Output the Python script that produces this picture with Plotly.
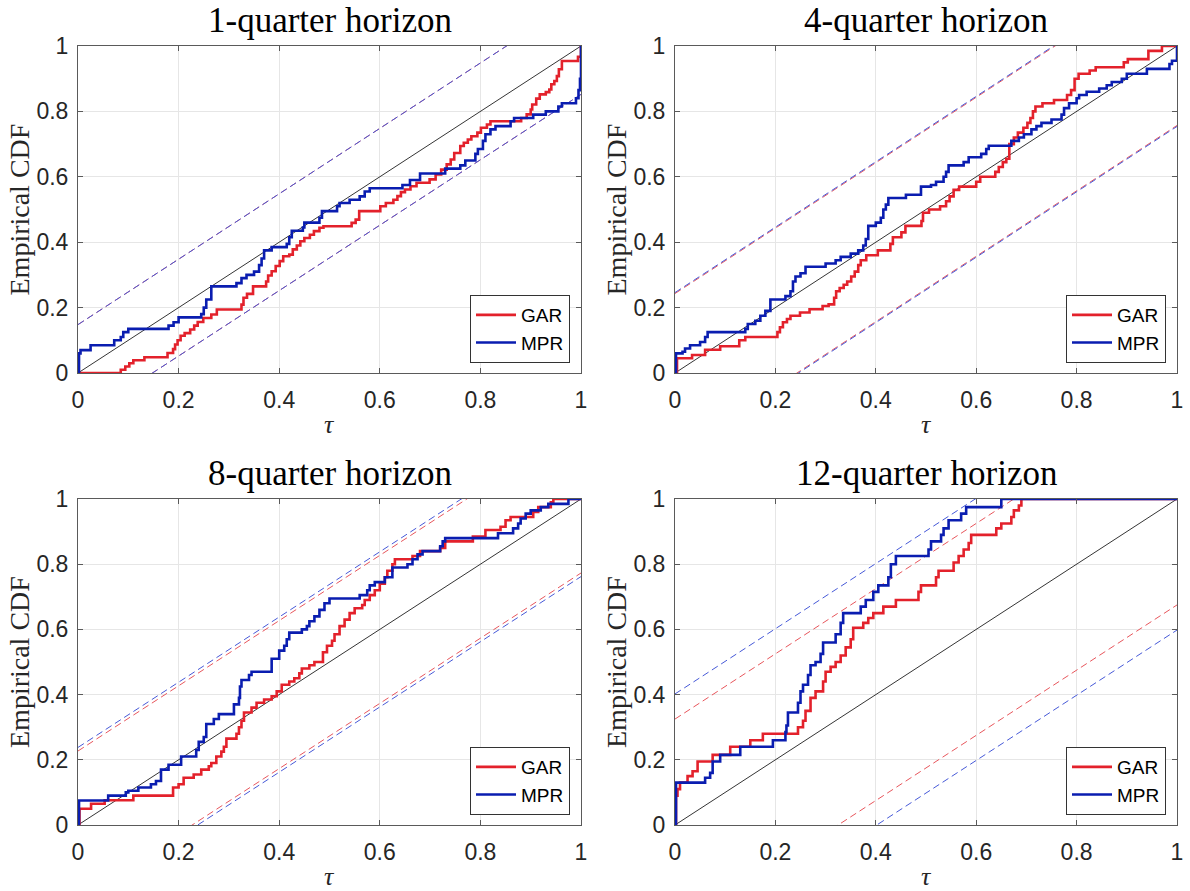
import plotly.graph_objects as go

# ---------------- data ----------------
panel_titles = ["1-quarter horizon", "4-quarter horizon", "8-quarter horizon", "12-quarter horizon"]
tick_vals = [0, 0.2, 0.4, 0.6, 0.8, 1]
tick_text = ["0", "0.2", "0.4", "0.6", "0.8", "1"]

# empirical CDF steps: (tau, cdf) pairs
gar_q1 = [(0, 0), (0.085, 0.01), (0.094, 0.02), (0.102, 0.03), (0.11, 0.039), (0.132, 0.048), (0.178, 0.061),
          (0.189, 0.073), (0.193, 0.087), (0.198, 0.1), (0.204, 0.114), (0.212, 0.122), (0.223, 0.133),
          (0.231, 0.145), (0.238, 0.156), (0.249, 0.168), (0.265, 0.179), (0.276, 0.194), (0.325, 0.209),
          (0.329, 0.23), (0.336, 0.242), (0.348, 0.265), (0.374, 0.28), (0.378, 0.298), (0.385, 0.311),
          (0.393, 0.327), (0.401, 0.342), (0.408, 0.357), (0.42, 0.362), (0.427, 0.378), (0.435, 0.39),
          (0.442, 0.403), (0.45, 0.413), (0.461, 0.423), (0.469, 0.434), (0.48, 0.444), (0.488, 0.449),
          (0.544, 0.459), (0.552, 0.469), (0.559, 0.495), (0.601, 0.51), (0.612, 0.52), (0.627, 0.53),
          (0.635, 0.541), (0.642, 0.553), (0.65, 0.561), (0.661, 0.571), (0.673, 0.582), (0.699, 0.592),
          (0.711, 0.607), (0.722, 0.622), (0.733, 0.638), (0.741, 0.653), (0.748, 0.673), (0.76, 0.694),
          (0.767, 0.704), (0.775, 0.714), (0.782, 0.724), (0.794, 0.735), (0.801, 0.75), (0.813, 0.76),
          (0.82, 0.77), (0.881, 0.78), (0.892, 0.791), (0.9, 0.806), (0.903, 0.821), (0.911, 0.839),
          (0.918, 0.852), (0.93, 0.859), (0.937, 0.867), (0.941, 0.883), (0.947, 0.893), (0.952, 0.908),
          (0.956, 0.929), (0.962, 0.954), (0.994, 0.967), (1.0, 1.0)]
mpr_q1 = [(0, 0), (0.002, 0.06), (0.005, 0.07), (0.025, 0.085), (0.072, 0.1), (0.085, 0.11), (0.09, 0.125),
          (0.1, 0.135), (0.18, 0.145), (0.19, 0.155), (0.2, 0.17), (0.245, 0.18), (0.25, 0.2), (0.255, 0.225),
          (0.265, 0.265), (0.315, 0.275), (0.325, 0.29), (0.335, 0.3), (0.35, 0.31), (0.36, 0.33),
          (0.365, 0.35), (0.37, 0.375), (0.385, 0.385), (0.415, 0.395), (0.42, 0.415), (0.425, 0.435),
          (0.447, 0.445), (0.45, 0.46), (0.48, 0.475), (0.485, 0.495), (0.515, 0.51), (0.52, 0.52),
          (0.54, 0.53), (0.56, 0.54), (0.57, 0.555), (0.58, 0.565), (0.645, 0.575), (0.66, 0.59),
          (0.68, 0.61), (0.73, 0.625), (0.76, 0.635), (0.77, 0.65), (0.79, 0.67), (0.795, 0.685),
          (0.805, 0.71), (0.81, 0.73), (0.82, 0.745), (0.83, 0.755), (0.86, 0.77), (0.867, 0.78),
          (0.905, 0.79), (0.93, 0.8), (0.955, 0.815), (0.962, 0.825), (0.99, 0.84), (0.995, 0.865),
          (0.998, 0.9), (1.0, 1.0)]

gar_q4 = [(0, 0), (0.004, 0.045), (0.034, 0.055), (0.06, 0.071), (0.09, 0.082), (0.128, 0.1), (0.14, 0.11),
          (0.204, 0.125), (0.209, 0.14), (0.215, 0.155), (0.223, 0.165), (0.23, 0.175), (0.249, 0.185),
          (0.268, 0.195), (0.294, 0.205), (0.306, 0.21), (0.317, 0.23), (0.321, 0.25), (0.328, 0.26),
          (0.336, 0.27), (0.343, 0.28), (0.351, 0.295), (0.358, 0.31), (0.365, 0.33), (0.37, 0.345),
          (0.381, 0.36), (0.404, 0.375), (0.429, 0.395), (0.434, 0.415), (0.451, 0.43), (0.459, 0.45),
          (0.491, 0.465), (0.494, 0.49), (0.506, 0.5), (0.528, 0.51), (0.54, 0.525), (0.547, 0.54),
          (0.555, 0.56), (0.566, 0.57), (0.6, 0.585), (0.608, 0.6), (0.638, 0.615), (0.645, 0.63),
          (0.653, 0.645), (0.66, 0.655), (0.666, 0.7), (0.675, 0.72), (0.683, 0.735), (0.694, 0.75),
          (0.702, 0.765), (0.708, 0.78), (0.713, 0.8), (0.718, 0.815), (0.732, 0.825), (0.755, 0.835),
          (0.781, 0.85), (0.789, 0.865), (0.796, 0.9), (0.804, 0.915), (0.826, 0.925), (0.838, 0.935),
          (0.894, 0.95), (0.902, 0.96), (0.943, 0.985), (0.97, 1.0), (1.0, 1.0)]
mpr_q4 = [(0, 0), (0.002, 0.06), (0.015, 0.065), (0.02, 0.075), (0.03, 0.085), (0.05, 0.095), (0.06, 0.11),
          (0.065, 0.125), (0.14, 0.135), (0.145, 0.15), (0.16, 0.16), (0.17, 0.175), (0.18, 0.19),
          (0.19, 0.225), (0.22, 0.235), (0.23, 0.25), (0.235, 0.28), (0.24, 0.295), (0.25, 0.305),
          (0.26, 0.325), (0.3, 0.335), (0.32, 0.345), (0.33, 0.355), (0.35, 0.365), (0.365, 0.375),
          (0.375, 0.39), (0.38, 0.41), (0.385, 0.45), (0.4, 0.46), (0.41, 0.475), (0.415, 0.5),
          (0.42, 0.515), (0.425, 0.535), (0.46, 0.545), (0.49, 0.57), (0.51, 0.575), (0.52, 0.585),
          (0.535, 0.6), (0.54, 0.615), (0.545, 0.635), (0.575, 0.645), (0.585, 0.66), (0.61, 0.67),
          (0.62, 0.685), (0.625, 0.695), (0.67, 0.71), (0.685, 0.72), (0.695, 0.73), (0.71, 0.745),
          (0.72, 0.755), (0.73, 0.765), (0.75, 0.775), (0.77, 0.79), (0.775, 0.81), (0.785, 0.825),
          (0.8, 0.84), (0.805, 0.85), (0.82, 0.86), (0.845, 0.87), (0.86, 0.88), (0.87, 0.89),
          (0.89, 0.9), (0.9, 0.915), (0.94, 0.93), (0.985, 0.945), (0.99, 0.955), (1.0, 1.0)]

gar_q8 = [(0, 0), (0.003, 0.05), (0.026, 0.065), (0.053, 0.076), (0.11, 0.09), (0.189, 0.115), (0.2, 0.125),
          (0.21, 0.145), (0.23, 0.155), (0.245, 0.17), (0.26, 0.18), (0.265, 0.19), (0.275, 0.21),
          (0.285, 0.225), (0.29, 0.24), (0.295, 0.265), (0.315, 0.28), (0.32, 0.3), (0.325, 0.32),
          (0.33, 0.345), (0.345, 0.36), (0.355, 0.375), (0.37, 0.385), (0.385, 0.395), (0.395, 0.41),
          (0.405, 0.43), (0.42, 0.44), (0.43, 0.45), (0.44, 0.465), (0.445, 0.48), (0.46, 0.49),
          (0.47, 0.5), (0.487, 0.53), (0.495, 0.55), (0.505, 0.565), (0.51, 0.585), (0.52, 0.61),
          (0.53, 0.63), (0.54, 0.65), (0.55, 0.665), (0.565, 0.675), (0.57, 0.69), (0.58, 0.705),
          (0.59, 0.72), (0.6, 0.74), (0.61, 0.76), (0.615, 0.78), (0.625, 0.8), (0.63, 0.815),
          (0.665, 0.825), (0.68, 0.84), (0.72, 0.85), (0.73, 0.87), (0.785, 0.885), (0.81, 0.905),
          (0.84, 0.915), (0.85, 0.935), (0.86, 0.945), (0.905, 0.96), (0.915, 0.975), (0.94, 0.99),
          (0.945, 1.0), (1.0, 1.0)]
mpr_q8 = [(0, 0), (0.002, 0.075), (0.06, 0.09), (0.095, 0.1), (0.1, 0.105), (0.12, 0.115), (0.145, 0.125),
          (0.155, 0.135), (0.165, 0.17), (0.18, 0.185), (0.205, 0.21), (0.235, 0.23), (0.24, 0.255),
          (0.25, 0.27), (0.255, 0.31), (0.27, 0.325), (0.28, 0.34), (0.31, 0.37), (0.32, 0.39),
          (0.322, 0.425), (0.325, 0.445), (0.34, 0.46), (0.345, 0.47), (0.385, 0.51), (0.4, 0.535),
          (0.41, 0.55), (0.415, 0.57), (0.42, 0.59), (0.445, 0.6), (0.455, 0.61), (0.46, 0.625),
          (0.47, 0.64), (0.48, 0.66), (0.49, 0.68), (0.5, 0.695), (0.56, 0.705), (0.575, 0.72),
          (0.58, 0.735), (0.59, 0.745), (0.61, 0.76), (0.625, 0.79), (0.655, 0.8), (0.665, 0.815),
          (0.675, 0.83), (0.685, 0.84), (0.72, 0.855), (0.725, 0.87), (0.73, 0.88), (0.835, 0.895),
          (0.865, 0.91), (0.875, 0.925), (0.88, 0.94), (0.89, 0.955), (0.9, 0.965), (0.92, 0.975),
          (0.935, 0.985), (0.975, 1.0), (1.0, 1.0)]

gar_q12 = [(0, 0), (0.002, 0.09), (0.005, 0.11), (0.01, 0.13), (0.025, 0.15), (0.035, 0.165), (0.045, 0.195),
           (0.075, 0.215), (0.11, 0.24), (0.15, 0.26), (0.175, 0.28), (0.245, 0.3), (0.255, 0.32),
           (0.26, 0.35), (0.27, 0.39), (0.28, 0.41), (0.295, 0.44), (0.3, 0.47), (0.31, 0.485),
           (0.32, 0.5), (0.33, 0.52), (0.34, 0.545), (0.35, 0.57), (0.355, 0.605), (0.375, 0.62),
           (0.385, 0.635), (0.395, 0.65), (0.415, 0.67), (0.44, 0.69), (0.485, 0.715), (0.49, 0.735),
           (0.52, 0.76), (0.525, 0.78), (0.555, 0.805), (0.565, 0.825), (0.575, 0.845), (0.585, 0.865),
           (0.59, 0.89), (0.64, 0.91), (0.65, 0.925), (0.67, 0.945), (0.675, 0.965), (0.685, 0.98),
           (0.69, 1.0), (1.0, 1.0)]
mpr_q12 = [(0, 0), (0.002, 0.13), (0.06, 0.145), (0.07, 0.16), (0.075, 0.195), (0.09, 0.215), (0.13, 0.24),
           (0.195, 0.26), (0.22, 0.285), (0.222, 0.305), (0.225, 0.345), (0.245, 0.375), (0.25, 0.41),
           (0.255, 0.43), (0.265, 0.46), (0.27, 0.49), (0.28, 0.5), (0.29, 0.525), (0.295, 0.56),
           (0.32, 0.585), (0.33, 0.62), (0.335, 0.65), (0.37, 0.67), (0.38, 0.69), (0.395, 0.715),
           (0.405, 0.735), (0.425, 0.76), (0.43, 0.8), (0.44, 0.825), (0.505, 0.845), (0.51, 0.87),
           (0.53, 0.89), (0.535, 0.91), (0.545, 0.935), (0.57, 0.955), (0.58, 0.975), (0.65, 1.0),
           (1.0, 1.0)]

# half-widths of the confidence bands around the 45-degree line
band_gar = [0.148, 0.243, 0.227, 0.325]
band_mpr = [0.148, 0.246, 0.238, 0.402]

gar_series = [gar_q1, gar_q4, gar_q8, gar_q12]
mpr_series = [mpr_q1, mpr_q4, mpr_q8, mpr_q12]

# ---------------- styling ----------------
W, H = 1190, 891
RED = "#E3212B"
BLUE = "#0A1DB0"
RED_D = "#E8565C"
BLUE_D = "#4659D8"
AX = "#5a5a5a"

# pixel boxes of the four axes: (left, right, top, bottom)
boxes = [(78, 581, 46, 373), (675, 1177, 46, 373), (78, 581, 499, 825), (675, 1177, 499, 825)]

fig = go.Figure()
layout = dict(width=W, height=H, margin=dict(l=0, r=0, t=0, b=0, pad=0, autoexpand=False),
              paper_bgcolor="white", plot_bgcolor="white", showlegend=True)
annotations = []

for i in range(4):
    l, r, t, b = boxes[i]
    xa = "xaxis" if i == 0 else f"xaxis{i+1}"
    ya = "yaxis" if i == 0 else f"yaxis{i+1}"
    xr = "x" if i == 0 else f"x{i+1}"
    yr = "y" if i == 0 else f"y{i+1}"
    lg = "legend" if i == 0 else f"legend{i+1}"
    common = dict(range=[0, 1], tickvals=tick_vals, ticktext=tick_text, showgrid=True,
                  gridcolor="#e6e6e6", gridwidth=1, zeroline=False, showline=True, linecolor=AX,
                  linewidth=1, mirror="ticks", ticks="inside", ticklen=5, tickcolor=AX,
                  automargin=False,
                  tickfont=dict(family="Liberation Sans, Arial", size=23, color="#262626"))
    layout[xa] = dict(common, domain=[l / W, r / W], anchor=yr, ticklabelstandoff=6)
    layout[ya] = dict(common, domain=[1 - b / H, 1 - t / H], anchor=xr, ticklabelstandoff=4)

    # 45-degree line
    fig.add_trace(go.Scatter(x=[0, 1], y=[0, 1], mode="lines", line=dict(color="black", width=0.8),
                             xaxis=xr, yaxis=yr, showlegend=False, hoverinfo="skip"))
    # bands
    for c, col in ((band_gar[i], RED_D), (band_mpr[i], BLUE_D)):
        for s in (1, -1):
            fig.add_trace(go.Scatter(x=[0, 1], y=[s * c, 1 + s * c], mode="lines",
                                     line=dict(color=col, width=1, dash="7px,4px"),
                                     xaxis=xr, yaxis=yr, showlegend=False, hoverinfo="skip"))
    for name, data, col in (("GAR", gar_series[i], RED), ("MPR", mpr_series[i], BLUE)):
        fig.add_trace(go.Scatter(x=[p[0] for p in data], y=[p[1] for p in data], mode="lines",
                                 line=dict(color=col, width=2.6, shape="hv"), name=name,
                                 xaxis=xr, yaxis=yr, legend=lg, showlegend=True))
    # legend box
    layout[lg] = dict(x=(r - 11) / W, y=1 - (b - 10) / H, xanchor="right", yanchor="bottom",
                      bgcolor="white", bordercolor="#333333", borderwidth=1,
                      font=dict(family="Liberation Sans, Arial", size=19, color="black"),
                      tracegroupgap=0, itemwidth=40)
    # texts
    cx = (l + r) / 2 / W
    annotations.append(dict(text=panel_titles[i], x=cx, y=1 - (t - 26) / H, xref="paper", yref="paper",
                            xanchor="center", yanchor="middle", showarrow=False,
                            font=dict(family="Liberation Serif, Times New Roman", size=35, color="black")))
    annotations.append(dict(text="Empirical CDF", x=(l - 59) / W, y=1 - (t + b) / 2 / H, xref="paper",
                            yref="paper", xanchor="center", yanchor="middle", textangle=-90,
                            showarrow=False,
                            font=dict(family="Liberation Serif, Times New Roman", size=28, color="#262626")))
    annotations.append(dict(text="<i>τ</i>", x=cx, y=1 - (b + 51) / H, xref="paper", yref="paper",
                            xanchor="center", yanchor="middle", showarrow=False,
                            font=dict(family="Liberation Serif, Times New Roman", size=26, color="#262626")))

layout["annotations"] = annotations
fig.update_layout(**layout)
fig.write_html("out.html")
